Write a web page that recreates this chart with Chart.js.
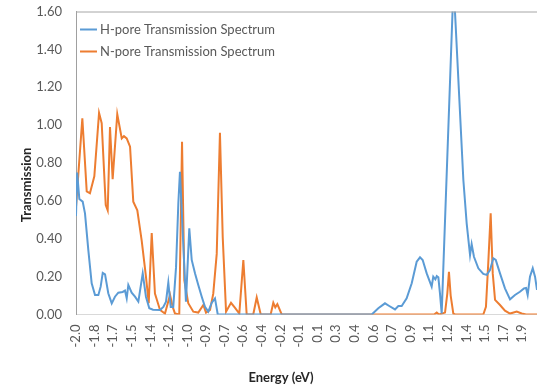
<!DOCTYPE html>
<html>
<head>
<meta charset="utf-8">
<script src="https://cdn.jsdelivr.net/npm/chart.js@4.4.1/dist/chart.umd.min.js"></script>
<style>
  html, body { margin: 0; padding: 0; background: #ffffff; }
  #chart_wrapper { position: relative; width: 537px; height: 390px; }
</style>
</head>
<body>
<div id="chart_wrapper"><canvas id="myChart"></canvas></div>
<script>
// H-pore: energy (eV) / transmission
let hEnergy = [
  -2.000, -1.990, -1.971, -1.942, -1.922, -1.893, -1.864, -1.835, -1.806, -1.786,
  -1.768, -1.748, -1.720, -1.690, -1.662, -1.633, -1.595, -1.575, -1.560, -1.546,
  -1.517, -1.488, -1.459, -1.421, -1.393, -1.364, -1.332, -1.271, -1.242, -1.219,
  -1.199, -1.178, -1.156, -1.132, -1.112, -1.098, -1.046, -1.017, -0.996, -0.967,
  -0.939, -0.909, -0.881, -0.852, -0.822, -0.794, -0.770, 0.566, 0.623, 0.681,
  0.718, 0.768, 0.797, 0.826, 0.869, 0.913, 0.956, 0.985, 1.008, 1.043,
  1.086, 1.100, 1.118, 1.130, 1.144, 1.158, 1.173, 1.276, 1.361, 1.390,
  1.419, 1.433, 1.453, 1.491, 1.534, 1.564, 1.592, 1.621, 1.642, 1.679,
  1.722, 1.766, 1.809, 1.852, 1.887, 1.905, 1.919, 1.939, 1.963, 1.983,
  2.000
];
let hTrans = [
  0.52, 0.75, 0.61, 0.596, 0.534, 0.34, 0.165, 0.103, 0.103, 0.147,
  0.22, 0.212, 0.112, 0.059, 0.094, 0.115, 0.119, 0.126, 0.085, 0.156,
  0.115, 0.094, 0.068, 0.217, 0.094, 0.033, 0.025, 0.024, 0.04, 0.068,
  0.168, 0.04, 0.04, 0.25, 0.587, 0.754, 0.068, 0.455, 0.288, 0.217,
  0.156, 0.094, 0.04, 0.015, 0.062, 0.085, 0.0, 0.0, 0.033, 0.059,
  0.045, 0.027, 0.045, 0.045, 0.085, 0.165, 0.279, 0.302, 0.288, 0.217,
  0.147, 0.2, 0.186, 0.203, 0.196, 0.112, 0.006, 1.75, 0.71, 0.48,
  0.314, 0.372, 0.305, 0.244, 0.214, 0.209, 0.235, 0.297, 0.288, 0.217,
  0.138, 0.08, 0.103, 0.12, 0.138, 0.14, 0.103, 0.2, 0.244, 0.2,
  0.13
];

// N-pore: energy (eV) / transmission
let nEnergy = [
  -2.000, -1.945, -1.907, -1.879, -1.841, -1.800, -1.777, -1.742, -1.725, -1.705,
  -1.682, -1.642, -1.603, -1.584, -1.560, -1.531, -1.503, -1.468, -1.430, -1.393,
  -1.369, -1.343, -1.315, -1.271, -1.228, -1.184, -1.161, -1.141, -1.104, -1.080,
  -1.060, -1.026, -0.982, -0.939, -0.895, -0.872, -0.837, -0.809, -0.779, -0.751,
  -0.727, -0.698, -0.655, -0.620, -0.583, -0.548, -0.519, -0.462, -0.432, -0.397,
  -0.311, -0.288, -0.271, -0.253, -0.215, 1.107, 1.130, 1.150, 1.202, 1.222,
  1.236, 1.251, 1.274, 1.289, 1.534, 1.557, 1.577, 1.598, 1.616, 1.636,
  1.679, 1.722, 1.766, 1.824, 1.867, 1.905, 2.000
];
let nTrans = [
  0.57, 1.036, 0.65, 0.64, 0.73, 1.065, 1.01, 0.578, 0.55, 0.99,
  0.714, 1.058, 0.93, 0.942, 0.93, 0.886, 0.596, 0.55, 0.39, 0.2,
  0.06, 0.43, 0.11, 0.024, 0.005, 0.103, 0.04, 0.005, 0.0, 0.912,
  0.18, 0.06, 0.015, 0.01, 0.05, 0.01, 0.024, 0.11, 0.32, 0.96,
  0.41, 0.015, 0.062, 0.035, 0.005, 0.288, 0.0, 0.0, 0.09, 0.0,
  0.0, 0.062, 0.038, 0.055, 0.0, 0.0, 0.01, 0.0, 0.01, 0.112,
  0.226, 0.1, 0.005, 0.0, 0.0, 0.04, 0.27, 0.534, 0.217, 0.077,
  0.05, 0.02, 0.005, 0.015, 0.005, 0.0, 0.0
];

// category-style labels, one every 10 energy steps (step = 4/248 eV)
let xLabels = [
  "-2.0", "-1.8", "-1.7", "-1.5", "-1.4", "-1.2", "-1.0", "-0.9", "-0.7", "-0.6",
  "-0.4", "-0.2", "-0.1", "0.1", "0.3", "0.4", "0.6", "0.7", "0.9", "1.1",
  "1.2", "1.4", "1.5", "1.7", "1.9"
];
let xMin = -2.0;
let xMax = 2.0;
let labelStep = (4 / 248) * 10;

let yMin = 0;
let yMax = 1.6;
let yStep = 0.2;

let seriesNames = ["H-pore Transmission Spectrum", "N-pore Transmission Spectrum"];
let seriesColors = ["#5B9BD5", "#ED7D31"];

let fontFamily = "Lato, 'Open Sans', sans-serif";
let textColor = "#595959";

function toPoints(xs, ys) {
  return xs.map((x, i) => ({ x: x, y: ys[i] }));
}

// top frame line, axis titles, legend nudged into the plot corner
const framePlugin = {
  id: "frame",
  afterLayout(chart) {
    if (chart.legend) {
      chart.legend.left -= 1.5;
      chart.legend.top += 14;
    }
  },
  afterDraw(chart) {
    const ctx = chart.ctx;
    const area = chart.chartArea;
    ctx.save();
    ctx.strokeStyle = "#a6a6a6";
    ctx.lineWidth = 1;
    ctx.beginPath();
    ctx.moveTo(area.left, area.top + 0.5);
    ctx.lineTo(area.right, area.top + 0.5);
    ctx.stroke();

    ctx.fillStyle = "#262626";
    ctx.font = "bold 13px " + fontFamily;
    ctx.textAlign = "center";
    ctx.textBaseline = "middle";
    ctx.fillText("Energy (eV)", 281, 378);

    ctx.translate(27, 185);
    ctx.rotate(-Math.PI / 2);
    ctx.fillText("Transmission", 0, 0);
    ctx.restore();
  },
};

let config = {
  type: "line",
  data: {
    datasets: [
      {
        label: seriesNames[0],
        data: toPoints(hEnergy, hTrans),
        borderColor: seriesColors[0],
        backgroundColor: seriesColors[0],
        borderWidth: 2,
        pointRadius: 0,
        tension: 0,
        fill: false,
      },
      {
        label: seriesNames[1],
        data: toPoints(nEnergy, nTrans),
        borderColor: seriesColors[1],
        backgroundColor: seriesColors[1],
        borderWidth: 2,
        pointRadius: 0,
        tension: 0,
        fill: false,
      },
    ],
  },
  options: {
    responsive: true,
    maintainAspectRatio: false,
    animation: false,
    layout: {
      padding: { top: 11.5, right: 0, bottom: 0, left: 0 },
    },
    plugins: {
      legend: {
        position: "chartArea",
        align: "start",
        labels: {
          usePointStyle: true,
          pointStyle: "line",
          boxWidth: 10,
          boxHeight: 12,
          color: textColor,
          padding: 9,
          font: { family: fontFamily, size: 13 },
        },
      },
      tooltip: { enabled: false },
    },
    scales: {
      x: {
        type: "linear",
        min: xMin,
        max: xMax,
        afterBuildTicks: (axis) => {
          axis.ticks = xLabels.map((_, i) => ({ value: xMin + i * labelStep }));
        },
        afterFit: (axis) => {
          axis.height = 75.5;
          axis.paddingLeft = 0;
          axis.paddingRight = 0;
        },
        grid: { display: false, drawTicks: false },
        border: { display: true, color: "#d9d9d9", width: 1 },
        ticks: {
          autoSkip: false,
          minRotation: 90,
          maxRotation: 90,
          padding: 10,
          color: textColor,
          font: { family: fontFamily, size: 13 },
          callback: (value, index) => xLabels[index],
        },
      },
      y: {
        min: yMin,
        max: yMax,
        afterFit: (axis) => {
          axis.width = 76;
          axis.paddingTop = 0;
          axis.paddingBottom = 0;
        },
        grid: { display: false, drawTicks: false },
        border: { display: true, color: "#a0a0a0", width: 1 },
        ticks: {
          stepSize: yStep,
          padding: 14,
          color: textColor,
          font: { family: fontFamily, size: 13 },
          callback: (value) => Number(value).toFixed(2),
        },
      },
    },
  },
  plugins: [framePlugin],
};

window.onload = function () {
  let ctx = document.getElementById("myChart").getContext("2d");
  window.myLine = new Chart(ctx, config);
};
</script>
</body>
</html>
